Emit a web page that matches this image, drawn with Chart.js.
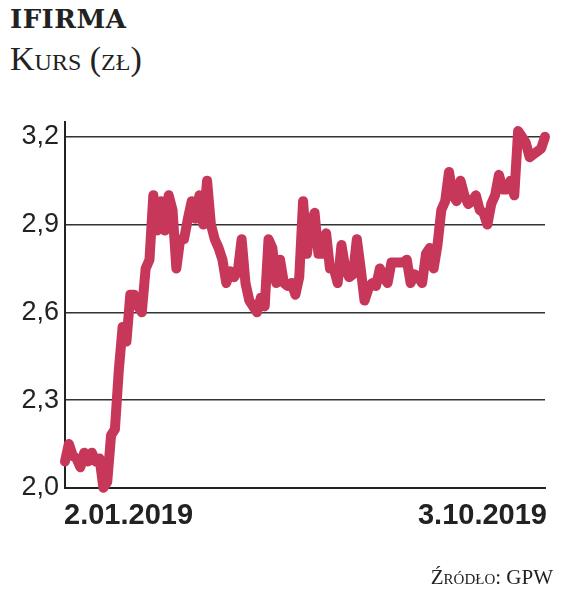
<!DOCTYPE html>
<html>
<head>
<meta charset="utf-8">
<script src="https://cdn.jsdelivr.net/npm/chart.js@4/dist/chart.umd.min.js"></script>
<style>
  body { margin: 0; width: 561px; height: 593px; background: #fff; position: relative; overflow: hidden; font-family: 'Liberation Sans Narrow', 'Liberation Sans', sans-serif; color: #222; }
  #title { position: absolute; left: 10px; top: 4px; font: bold 26px 'DejaVu Serif', serif; letter-spacing: 0.5px; }
  #sub { position: absolute; left: 10px; top: 40px; font: 34px 'Liberation Serif', serif; font-variant: small-caps; }
  #wrap { position: absolute; left: 0; top: 100px; width: 561px; height: 410px; }
  .xl { position: absolute; top: 498px; font-size: 29px; font-weight: bold; }
  #src { position: absolute; right: 8px; top: 565px; font: 21px 'Liberation Serif', serif; font-variant: small-caps; }
</style>
</head>
<body>
<div id="title">IFIRMA</div>
<div id="sub">Kurs (zł)</div>
<div id="wrap"><canvas id="c"></canvas></div>
<div class="xl" id="x0" style="left:64px"></div>
<div class="xl" id="x1" style="right:14px"></div>
<div id="src">Źródło: GPW</div>
<script>
const prices = [2.09,2.15,2.11,2.10,2.07,2.12,2.09,2.12,2.09,2.10,2.00,2.02,2.18,2.20,2.40,2.55,2.50,2.66,2.66,2.62,2.60,2.75,2.78,3.00,2.88,2.98,2.88,3.00,2.95,2.75,2.85,2.85,2.92,2.98,2.92,3.00,2.90,3.05,2.90,2.85,2.82,2.78,2.70,2.74,2.72,2.74,2.85,2.70,2.64,2.62,2.60,2.65,2.62,2.85,2.82,2.70,2.78,2.70,2.69,2.70,2.66,2.72,2.98,2.80,2.90,2.94,2.80,2.80,2.87,2.75,2.75,2.70,2.83,2.75,2.72,2.73,2.85,2.75,2.64,2.68,2.70,2.69,2.75,2.72,2.70,2.77,2.77,2.77,2.77,2.78,2.70,2.73,2.72,2.70,2.80,2.82,2.75,2.83,2.95,2.98,3.08,3.00,2.98,3.05,3.00,2.97,2.98,3.00,2.95,2.94,2.90,2.97,3.00,3.07,3.02,3.02,3.05,3.00,3.22,3.20,3.18,3.13,3.14,3.15,3.16,3.20];
const yTicks = [2.0, 2.3, 2.6, 2.9, 3.2];
const xTickLabels = ['2.01.2019', '3.10.2019'];

document.getElementById('x0').textContent = xTickLabels[0];
document.getElementById('x1').textContent = xTickLabels[1];

new Chart(document.getElementById('c'), {
  type: 'line',
  data: {
    labels: prices.map((_, i) => i),
    datasets: [{
      data: prices,
      borderColor: '#c6375a',
      borderWidth: 10,
      pointRadius: 0,
      tension: 0,
      borderJoinStyle: 'round',
      borderCapStyle: 'round',
      clip: false
    }]
  },
  options: {
    animation: false,
    responsive: true,
    maintainAspectRatio: false,
    layout: { padding: { top: 4, right: 16, bottom: 13, left: 0 } },
    plugins: { legend: { display: false }, tooltip: { enabled: false } },
    scales: {
      x: {
        offset: false,
        ticks: { display: false },
        grid: { display: false },
        border: { display: true, color: '#222', width: 2 }
      },
      y: {
        min: 2.0,
        max: 3.25,
        afterBuildTicks: axis => { axis.ticks = yTicks.map(v => ({ value: v })); },
        afterFit: axis => { axis.width = 65; },
        ticks: {
          padding: 6,
          color: '#222',
          font: { family: "'Liberation Sans Narrow', 'Liberation Sans', sans-serif", size: 27 },
          callback: v => v.toFixed(1).replace('.', ',')
        },
        grid: { color: '#333', lineWidth: 1.5, drawTicks: false },
        border: { display: true, color: '#222', width: 2 }
      }
    }
  }
});
</script>
</body>
</html>
